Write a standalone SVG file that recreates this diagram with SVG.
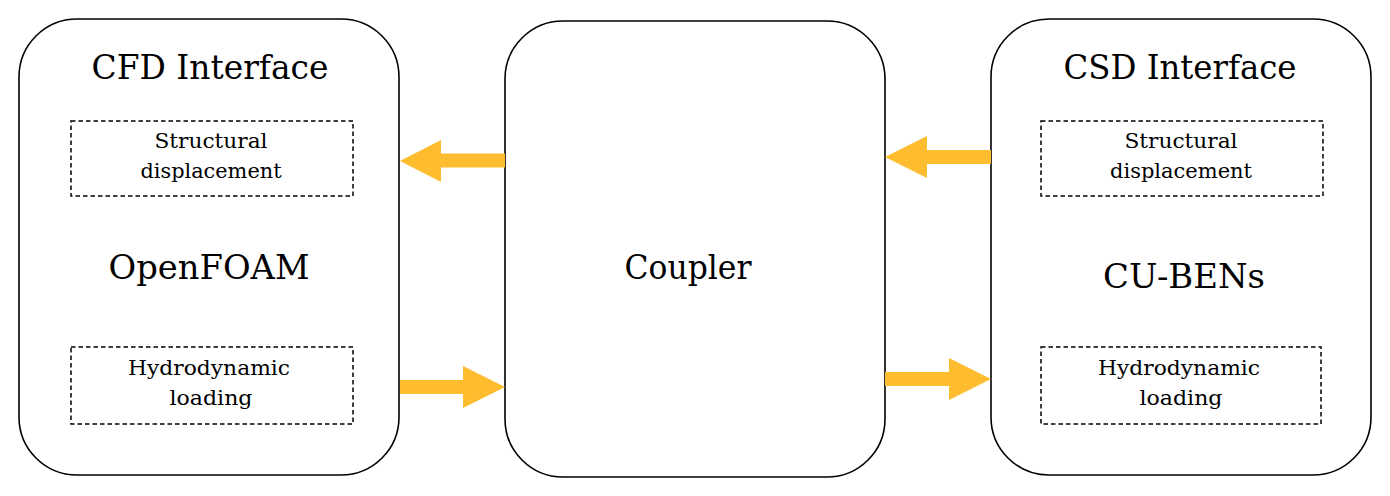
<svg xmlns="http://www.w3.org/2000/svg" width="1390" height="496" viewBox="0 0 1390 496">
<style>
.box{fill:#fff;stroke:#000;stroke-width:1.6}
.dash{fill:none;stroke:#000;stroke-width:1.5;stroke-dasharray:4.5 3}
.big{font-family:'DejaVu Serif','Liberation Serif','Times New Roman',serif;font-size:34px;fill:#000;text-anchor:middle}
.small{font-family:'DejaVu Serif','Liberation Serif','Times New Roman',serif;font-size:21px;fill:#000;text-anchor:middle}
.arrow{fill:#FDBD2E}
</style>
<rect width="1390" height="496" fill="#fff"/>
<g id="cfd">
<rect class="box" x="19" y="19" width="380" height="456" rx="58" ry="58"/>
<text class="big" x="210" y="79" textLength="237" lengthAdjust="spacingAndGlyphs">CFD Interface</text>
<g id="cfd-disp">
<rect class="dash" x="71" y="121" width="282" height="75"/>
<text class="small" x="211" y="148" textLength="113" lengthAdjust="spacingAndGlyphs">Structural</text>
<text class="small" x="211" y="178" textLength="141" lengthAdjust="spacingAndGlyphs">displacement</text>
</g>
<text class="big" x="209" y="279" textLength="201" lengthAdjust="spacingAndGlyphs">OpenFOAM</text>
<g id="cfd-load">
<rect class="dash" x="71" y="347" width="282" height="77"/>
<text class="small" x="209" y="375" textLength="162" lengthAdjust="spacingAndGlyphs">Hydrodynamic</text>
<text class="small" x="211" y="405" textLength="83" lengthAdjust="spacingAndGlyphs">loading</text>
</g>
</g>
<g id="coupler">
<rect class="box" x="505" y="21" width="380" height="456" rx="58" ry="58"/>
<text class="big" x="688" y="279" textLength="127" lengthAdjust="spacingAndGlyphs">Coupler</text>
</g>
<g id="csd">
<rect class="box" x="991" y="19" width="380" height="456" rx="58" ry="58"/>
<text class="big" x="1180" y="79" textLength="233" lengthAdjust="spacingAndGlyphs">CSD Interface</text>
<g id="csd-disp">
<rect class="dash" x="1041" y="121" width="282" height="75"/>
<text class="small" x="1181" y="148" textLength="113" lengthAdjust="spacingAndGlyphs">Structural</text>
<text class="small" x="1181" y="178" textLength="142" lengthAdjust="spacingAndGlyphs">displacement</text>
</g>
<text class="big" x="1184" y="288" textLength="162" lengthAdjust="spacingAndGlyphs">CU-BENs</text>
<g id="csd-load">
<rect class="dash" x="1041" y="347" width="280" height="77"/>
<text class="small" x="1179" y="375" textLength="162" lengthAdjust="spacingAndGlyphs">Hydrodynamic</text>
<text class="small" x="1181" y="405" textLength="83" lengthAdjust="spacingAndGlyphs">loading</text>
</g>
</g>
<g id="connectors">
<polygon class="arrow" points="505,153.5 441,153.5 441,140 400,161 441,182 441,167.5 505,167.5"/>
<polygon class="arrow" points="400,380 463,380 463,366 505,387 463,408 463,394 400,394"/>
<polygon class="arrow" points="991,150 927,150 927,136 885,157 927,178 927,164 991,164"/>
<polygon class="arrow" points="885,372 949,372 949,358 991,379 949,400 949,386 885,386"/>
</g>
</svg>
